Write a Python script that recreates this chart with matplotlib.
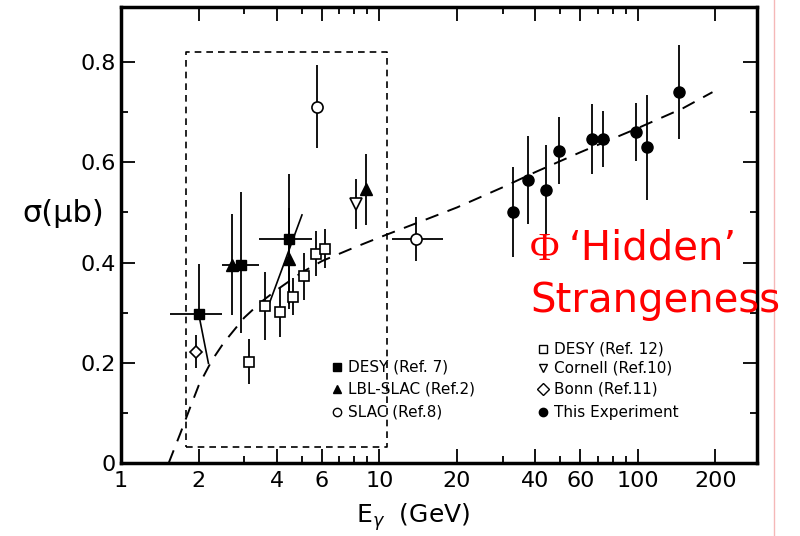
import matplotlib
matplotlib.use("Agg")
import matplotlib.pyplot as plt
from matplotlib.lines import Line2D
from matplotlib.ticker import FixedLocator, NullFormatter

# photon energy (GeV) and cross section (microbarn)
desy7_E = [2.0, 2.92, 4.49]
desy7_s = [0.297, 0.396, 0.447]
desy7_lo = [0.0, 0.137, 0.13]
desy7_hi = [0.10, 0.145, 0.13]
desy7_Emin = [1.55, 2.46, 3.42]
desy7_Emax = [2.46, 3.42, 5.5]

lbl_E = [2.70, 4.49, 8.91]
lbl_s = [0.396, 0.408, 0.546]
lbl_err = [0.10, 0.10, 0.071]

slac_E = [5.75, 13.9]
slac_s = [0.711, 0.447]
slac_err = [0.083, 0.043]
slac_Emin = [5.75, 11.2]
slac_Emax = [5.75, 17.6]

desy12_E = [3.12, 3.62, 4.11, 4.64, 5.13, 5.67, 6.15]
desy12_s = [0.202, 0.313, 0.302, 0.332, 0.373, 0.418, 0.428]
desy12_err = [0.045, 0.068, 0.05, 0.037, 0.047, 0.045, 0.038]

cornell_E = [8.10]
cornell_s = [0.517]
cornell_err = [0.05]

bonn_E = [1.96]
bonn_s = [0.222]
bonn_err = [0.033]

this_E = [33.0, 37.8, 44.2, 49.5, 66.5, 73.8, 98.2, 108.7, 144.6]
this_s = [0.501, 0.565, 0.545, 0.623, 0.646, 0.646, 0.660, 0.630, 0.740]
this_err = [0.09, 0.088, 0.09, 0.067, 0.07, 0.056, 0.058, 0.105, 0.094]

# dashed curve as drawn in the figure
fit_E = [1.53, 1.7, 1.85, 2.0, 2.25, 2.5, 3.0, 3.5, 4.0, 5.0, 6.0, 8.0, 10.0,
         15.0, 20.0, 30.0, 40.0, 60.0, 100.0, 150.0, 195.0]
fit_s = [0.0, 0.06, 0.11, 0.155, 0.205, 0.24, 0.29, 0.322, 0.345, 0.38, 0.403,
         0.43, 0.45, 0.485, 0.51, 0.55, 0.58, 0.62, 0.668, 0.708, 0.74]

# slanted connecting lines
link1_E = [2.0, 2.18]
link1_s = [0.297, 0.199]
link2_E = [5.02, 3.7]
link2_s = [0.495, 0.31]

# dashed box
box_E = [1.79, 10.7]
box_s = [0.032, 0.82]

xtick_vals = [1, 2, 4, 6, 10, 20, 40, 60, 100, 200]
xtick_labels = ["1", "2", "4", "6", "10", "20", "40", "60", "100", "200"]
xminor_vals = [3, 5, 7, 8, 9, 30, 50, 70, 80, 90]
ytick_vals = [0, 0.2, 0.4, 0.6, 0.8]
ytick_labels = ["0", "0.2", "0.4", "0.6", "0.8"]

fig = plt.figure(figsize=(8, 5.36), dpi=100)
ax = fig.add_axes([0.15125, 0.1362, 0.795, 0.8508])
ax.set_xscale("log")
ax.set_xlim(1, 290)
ax.set_ylim(0, 0.91)

ax.plot(fit_E, fit_s, color="k", lw=1.4, ls=(0, (7, 5)))
ax.plot([box_E[0], box_E[1], box_E[1], box_E[0], box_E[0]],
        [box_s[0], box_s[0], box_s[1], box_s[1], box_s[0]],
        color="k", lw=1.2, ls=(0, (4, 3)))
ax.plot(link1_E, link1_s, color="k", lw=1.2)
ax.plot(link2_E, link2_s, color="k", lw=1.2)

eb = dict(ecolor="k", elinewidth=1.3, capsize=0, ls="none")
ax.errorbar(desy7_E, desy7_s, yerr=[desy7_lo, desy7_hi],
            xerr=[[e - a for e, a in zip(desy7_E, desy7_Emin)],
                  [b - e for e, b in zip(desy7_E, desy7_Emax)]],
            marker="s", ms=7.5, mfc="k", mec="k", **eb)
ax.errorbar(lbl_E, lbl_s, yerr=lbl_err, marker="^", ms=8, mfc="k", mec="k", **eb)
ax.errorbar(slac_E, slac_s, yerr=slac_err,
            xerr=[[e - a for e, a in zip(slac_E, slac_Emin)],
                  [b - e for e, b in zip(slac_E, slac_Emax)]],
            marker="o", ms=8, mfc="white", mec="k", mew=1.2, **eb)
ax.errorbar(desy12_E, desy12_s, yerr=desy12_err, marker="s", ms=7,
            mfc="white", mec="k", mew=1.2, **eb)
ax.errorbar(cornell_E, cornell_s, yerr=cornell_err, marker="v", ms=9,
            mfc="white", mec="k", mew=1.2, **eb)
ax.errorbar(bonn_E, bonn_s, yerr=bonn_err, marker="D", ms=6.5,
            mfc="white", mec="k", mew=1.2, **eb)
ax.errorbar(this_E, this_s, yerr=this_err, marker="o", ms=8, mfc="k", mec="k", **eb)

ax.xaxis.set_major_locator(FixedLocator(xtick_vals))
ax.set_xticklabels(xtick_labels)
ax.xaxis.set_minor_locator(FixedLocator(xminor_vals))
ax.xaxis.set_minor_formatter(NullFormatter())
ax.set_yticks(ytick_vals)
ax.set_yticklabels(ytick_labels)
ax.set_yticks([0.1, 0.3, 0.5, 0.7], minor=True)
ax.tick_params(which="both", direction="in", top=True, right=True,
               labelsize=16, width=1.3)
ax.tick_params(which="major", length=10)
ax.tick_params(which="minor", length=5)
ax.tick_params(axis="y", pad=4)
ax.tick_params(axis="x", pad=6)
for sp in ax.spines.values():
    sp.set_linewidth(2.5)

fig.text(63 / 800, 1 - 213 / 536, "σ(μb)", fontsize=22, ha="center", va="center")
fig.text(413 / 800, 1 - 517 / 536, r"E$_\gamma$  (GeV)", fontsize=18,
         ha="center", va="center")

# legend, drawn by hand
leg_left = [("s", "k", "DESY (Ref. 7)", 367), ("^", "k", "LBL-SLAC (Ref.2)", 389),
            ("o", "white", "SLAC (Ref.8)", 412)]
leg_right = [("s", "white", "DESY (Ref. 12)", 349), ("v", "white", "Cornell (Ref.10)", 368),
             ("D", "white", "Bonn (Ref.11)", 389), ("o", "k", "This Experiment", 412)]
for items, mx in [(leg_left, 337), (leg_right, 543)]:
    for m, fc, label, py in items:
        ax.plot([mx / 800], [1 - py / 536], marker=m, ms=6, mfc=fc, mec="k",
                mew=1.0, transform=fig.transFigure, clip_on=False, ls="none")
        fig.text((mx + 11) / 800, 1 - py / 536, label, fontsize=11,
                 ha="left", va="center")

# red annotation
fig.text(530 / 800, 1 - 260 / 536, "Φ", fontsize=29, color="red",
         family="Liberation Serif", ha="left", va="baseline")
fig.text(569 / 800, 1 - 260 / 536, "\u2018Hidden\u2019", fontsize=29, color="red",
         ha="left", va="baseline")
fig.text(530 / 800, 1 - 312 / 536, "Strangeness", fontsize=29, color="red",
         ha="left", va="baseline")

fig.add_artist(Line2D([774 / 800, 774 / 800], [0, 1], color="#f5b8b8", lw=1))

fig.savefig("out.png", dpi=100)
